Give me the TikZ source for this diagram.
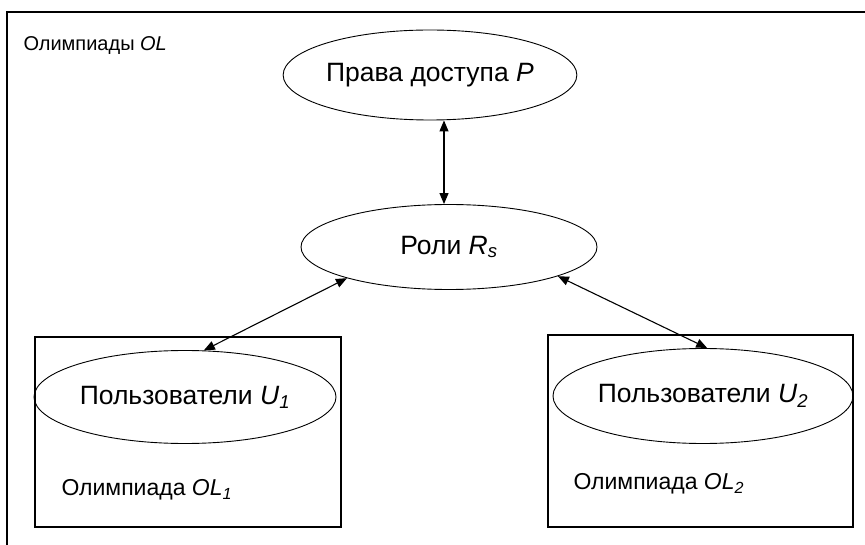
\documentclass[tikz,border=0pt]{standalone}
\usepackage{fontspec}
\setmainfont{Liberation Sans}
\usetikzlibrary{shapes.geometric,arrows.meta}
\begin{document}
\begin{tikzpicture}[x=1pt,y=-1pt,
  oval/.style={ellipse,draw,line width=0.9pt,inner sep=0pt},
  olbox/.style={draw,line width=1.1pt,inner sep=0pt},
  biarrow/.style={line width=1.1pt,{Triangle[length=11pt,width=9pt]}-{Triangle[length=11pt,width=9pt]}},
  big/.style={font=\fontsize{26.5}{30}\selectfont},
  mid/.style={font=\fontsize{23}{27}\selectfont},
  small/.style={font=\fontsize{20}{24}\selectfont}]
\useasboundingbox (0,0) rectangle (865,545);
\fill[white] (0,0) rectangle (865,545);
% outer frame (cut by the picture edge)
\coordinate (fbl) at (7,545);
\coordinate (ftl) at (7,12);
\coordinate (ftr) at (865,12);
\draw[line width=1.1pt] (fbl) -- (ftl) -- (ftr);
\node[small,anchor=west] (ol) at (20,46) {Олимпиады \textit{OL}};
% olympiad boxes
\node[olbox,minimum width=306pt,minimum height=190pt] (box1) at (188,432) {};
\node[olbox,minimum width=305pt,minimum height=192pt] (box2) at (700.5,431) {};
% ellipses
\node[oval,big,minimum width=286pt,minimum height=90pt] (P) at (430,75) {Права доступа \textit{P}};
\node[oval,big,minimum width=296pt,minimum height=85pt] (R) at (449,247) {Роли \textit{R}\textsubscript{\textit{s}}};
\node[oval,big,minimum width=302pt,minimum height=93pt] (U1) at (185,397) {Пользователи \textit{U}\textsubscript{\textit{1}}};
\node[oval,big,minimum width=300pt,minimum height=95pt] (U2) at (703,396) {Пользователи \textit{U}\textsubscript{\textit{2}}};
% labels of boxes
\node[mid,anchor=west] (l1) at (58,490) {Олимпиада \textit{OL}\textsubscript{\textit{1}}};
\node[mid,anchor=west] (l2) at (570,484) {Олимпиада \textit{OL}\textsubscript{\textit{2}}};
% connectors
\draw[biarrow] ([xshift=14pt]P.south) -- ([xshift=-5pt]R.north);
\draw[biarrow] (R.197) -- (U1.68);
\draw[biarrow] (R.345) -- (U2.85);
\end{tikzpicture}
\end{document}
